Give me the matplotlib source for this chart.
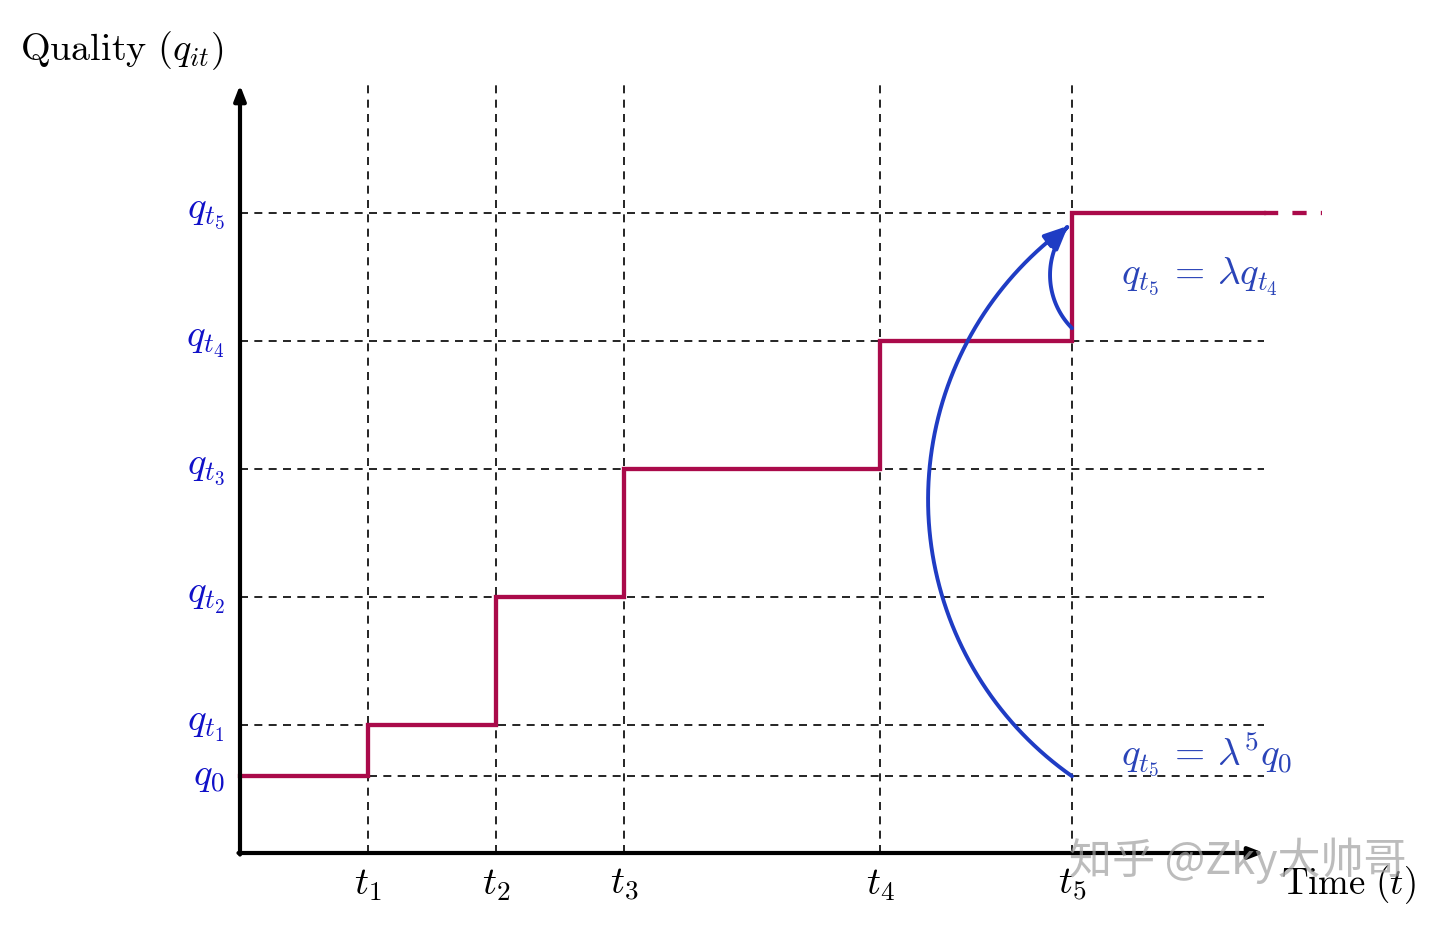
import matplotlib
matplotlib.use("Agg")
import numpy as np
import matplotlib.pyplot as plt
from matplotlib.patches import FancyArrowPatch
from matplotlib.path import Path

plt.rcParams['mathtext.fontset'] = 'cm'
plt.rcParams['font.family'] = ['DejaVu Serif']

# ---- data ----
time_points = [1.0, 2.0, 3.0, 5.0, 6.5]
time_labels = [r'$t_1$', r'$t_2$', r'$t_3$', r'$t_4$', r'$t_5$']
quality_levels = [0.6, 1.0, 2.0, 3.0, 4.0, 5.0]
quality_labels = [r'$q_0$', r'$q_{t_1}$', r'$q_{t_2}$', r'$q_{t_3}$', r'$q_{t_4}$', r'$q_{t_5}$']
step_x = [0.0, 1.0, 2.0, 3.0, 5.0, 6.5, 8.0]
step_y = [0.6, 1.0, 2.0, 3.0, 4.0, 5.0, 5.0]
x_end = 8.0
x_extend = 8.45
y_top = 6.0

RED = '#aa0a4a'
TICKBLUE = '#1010c8'
ANNBLUE = '#2a44b8'
ARROWBLUE = '#1f3cc4'
FS = 28

fig = plt.figure(figsize=(14.4, 9.25), dpi=100)
ax = fig.add_axes([0, 0, 1, 1])
ax.set_xlim(-240/128, (1440-240)/128)
ax.set_ylim(-72/128, (925-72)/128)
ax.axis('off')

dash = (0, (4.8, 3.8))
# dashed grid
for t in time_points:
    ax.plot([t, t], [0, y_top], color='black', lw=1.2, linestyle=dash, zorder=1)
for q in quality_levels:
    ax.plot([0, x_end], [q, q], color='black', lw=1.2, linestyle=dash, zorder=1)

# step function
ax.step(step_x, step_y, where='post', color=RED, lw=3.1, zorder=3, solid_joinstyle='miter')
ax.plot([step_x[-1], x_extend], [step_y[-1], step_y[-1]], color=RED, lw=3.1,
        linestyle=(0, (3.3, 3.3)), zorder=3)

# axes arrows
ax.annotate('', xy=(8.0, 0), xytext=(-0.012, 0),
            arrowprops=dict(arrowstyle='-|>,head_length=0.9,head_width=0.35', lw=3.0, color='black',
                            shrinkA=0, shrinkB=0), zorder=4)
ax.annotate('', xy=(0, 6.0), xytext=(0, -0.012),
            arrowprops=dict(arrowstyle='-|>,head_length=0.9,head_width=0.35', lw=3.0, color='black',
                            shrinkA=0, shrinkB=0), zorder=4)

# tick labels
for t, lab in zip(time_points, time_labels):
    ax.text(t, -0.1, lab, ha='center', va='top', fontsize=FS, color='black')
for q, lab in zip(quality_levels, quality_labels):
    ax.text(-0.12, q, lab, ha='right', va='center', fontsize=FS, color=TICKBLUE)

# axis titles
ax.text(-1.72, 6.27, r'$\mathrm{Quality}\ (q_{it})$', ha='left', va='center', fontsize=27.5)
ax.text(8.13, -0.25, r'$\mathrm{Time}\ (t)$', ha='left', va='center', fontsize=26.5)


def arc_path(p0, p1, bulge, n=80):
    """circular arc from p0 to p1 bulging to the left of direction p0->p1 by 'bulge'."""
    p0 = np.asarray(p0, float)
    p1 = np.asarray(p1, float)
    d = p1 - p0
    c = np.linalg.norm(d) / 2
    R = (c**2 + bulge**2) / (2 * bulge)
    mid = (p0 + p1) / 2
    nvec = np.array([-d[1], d[0]]) / np.linalg.norm(d)  # left normal
    center = mid - nvec * (R - bulge)
    a0 = np.arctan2(*(p0 - center)[::-1])
    a1 = np.arctan2(*(p1 - center)[::-1])
    if a1 < a0:
        a1 += 2 * np.pi
    am = np.arctan2(*(mid + nvec * bulge - center)[::-1])
    while am < a0:
        am += 2 * np.pi
    if am > a1:
        a1 -= 2 * np.pi
    ang = np.linspace(a0, a1, n)
    pts = center + R * np.column_stack([np.cos(ang), np.sin(ang)])
    return Path(pts)


a1 = FancyArrowPatch(path=arc_path((6.5, 0.6), (6.47, 4.9), 142/128),
                     arrowstyle='-|>,head_length=14,head_width=4.5', lw=2.8, color=ARROWBLUE,
                     shrinkA=0, shrinkB=0, zorder=5)
ax.add_patch(a1)
a2 = FancyArrowPatch(path=arc_path((6.5, 4.1), (6.47, 4.9), 20/128),
                     arrowstyle='-|>,head_length=14,head_width=4.5', lw=2.8, color=ARROWBLUE,
                     shrinkA=0, shrinkB=0, zorder=5)
ax.add_patch(a2)

ax.text(6.88, 4.5, r'$q_{t_5}\,=\,\lambda q_{t_4}$', ha='left', va='center', fontsize=FS, color=ANNBLUE)
ax.text(6.88, 0.77, r'$q_{t_5}\,=\,\lambda^5 q_0$', ha='left', va='center', fontsize=FS, color=ANNBLUE)

# watermark
ax.text(6.48, -0.06, '知乎 @Zky大帅哥', ha='left', va='center', fontsize=31,
        color='#a0a0a0', alpha=0.7, family=['Noto Sans CJK SC', 'DejaVu Sans'], zorder=6)

fig.savefig('out.png', dpi=100)
